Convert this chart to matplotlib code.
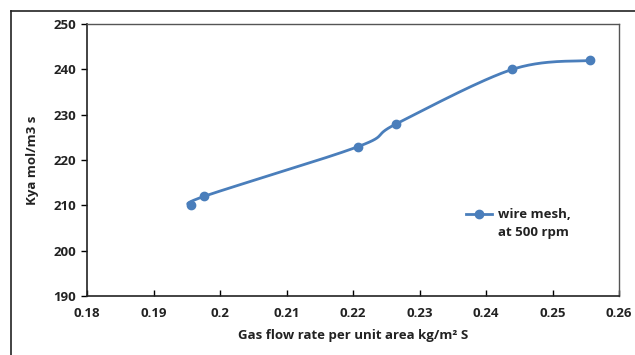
import numpy as np
import matplotlib
matplotlib.use("Agg")
import matplotlib.pyplot as plt
from matplotlib.lines import Line2D

plt.rcParams['font.family'] = ['Open Sans', 'DejaVu Sans']

# data
gas_flow = [0.1956, 0.1976, 0.2208, 0.2265, 0.2439, 0.2556]
kya = [210, 212, 223, 228, 240, 242]
x_ticks = [0.18, 0.19, 0.2, 0.21, 0.22, 0.23, 0.24, 0.25, 0.26]
x_labels = ["0.18", "0.19", "0.2", "0.21", "0.22", "0.23", "0.24", "0.25", "0.26"]
y_ticks = [190, 200, 210, 220, 230, 240, 250]

color = "#4a7ebb"


def smooth(x, y, xr, yr, n=30):
    # catmull-rom curve through the points (like excel's smoothed line)
    px = (np.asarray(x) - xr[0]) / (xr[1] - xr[0])
    py = (np.asarray(y) - yr[0]) / (yr[1] - yr[0])
    P = np.column_stack([px, py])
    P = np.vstack([P[0], P, P[-1]])
    out = []
    for i in range(1, len(P) - 2):
        p0, p1, p2, p3 = P[i - 1], P[i], P[i + 1], P[i + 2]
        c1 = p1 + (p2 - p0) / 6
        c2 = p2 - (p3 - p1) / 6
        t = np.linspace(0, 1, n)[:, None]
        seg = ((1 - t) ** 3 * p1 + 3 * (1 - t) ** 2 * t * c1
               + 3 * (1 - t) * t ** 2 * c2 + t ** 3 * p2)
        out.append(seg)
    out = np.vstack(out)
    return (out[:, 0] * (xr[1] - xr[0]) + xr[0],
            out[:, 1] * (yr[1] - yr[0]) + yr[0])


fig = plt.figure(figsize=(6.35, 3.55), dpi=100)
ax = fig.add_axes([0.137, 0.166, 0.838, 0.766])

xr = (0.18, 0.26)
yr = (190, 250)
sx, sy = smooth(gas_flow, kya, xr, yr)
ax.plot(sx, sy, color=color, lw=2)
ax.plot(gas_flow, kya, "o", color=color, ms=6)

ax.set_xlim(*xr)
ax.set_ylim(*yr)
ax.set_xticks(x_ticks)
ax.set_xticklabels(x_labels)
ax.set_yticks(y_ticks)
ax.tick_params(axis="x", direction="in", length=4, width=1, pad=8,
               labelsize=9.5)
ax.tick_params(axis="y", direction="out", length=4, width=1, pad=4,
               labelsize=9.5)
for lab in ax.get_xticklabels() + ax.get_yticklabels():
    lab.set_fontweight("bold")
    lab.set_color("#222222")

for s in ["left", "bottom"]:
    ax.spines[s].set_color("#222222")
    ax.spines[s].set_linewidth(1.2)
for s in ["top", "right"]:
    ax.spines[s].set_color("#555555")
    ax.spines[s].set_linewidth(1)

ax.set_xlabel("Gas flow rate per unit area kg/m² S", fontsize=9.5,
              fontweight="bold", color="#222222", labelpad=6)
ax.set_ylabel("Kya mol/m3 s", fontsize=9.5, fontweight="bold",
              color="#222222", labelpad=10)

# legend: marker sits next to the first line of the label, like excel
handle = Line2D([], [], color=color, lw=2, marker="o", ms=6)
blank = Line2D([], [], color="none")
leg = ax.legend([handle, blank], ["wire mesh,", "at 500 rpm"],
                loc="center left", bbox_to_anchor=(0.69, 0.267),
                frameon=False, handlelength=2, handletextpad=0.4,
                labelspacing=0.35,
                prop={"weight": "bold", "size": 9.5})
for t in leg.get_texts():
    t.set_color("#222222")

# outer frame lines of the original image
fig.add_artist(Line2D([0.017, 0.017], [0, 0.97], color="#222222", lw=1.2,
                      transform=fig.transFigure))
fig.add_artist(Line2D([0.017, 1.0], [0.97, 0.97], color="#222222", lw=1.2,
                      transform=fig.transFigure))

fig.savefig("out.png", dpi=100)
